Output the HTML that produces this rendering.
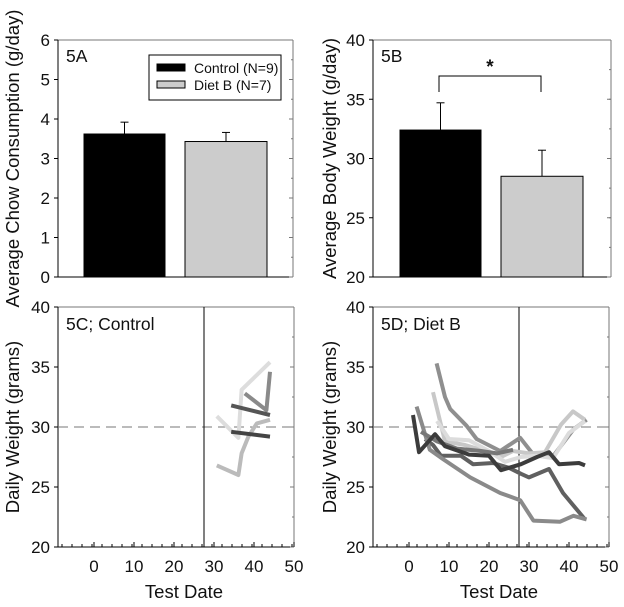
<!DOCTYPE html>
<html><head><meta charset="utf-8"><style>
html,body{margin:0;padding:0;background:#fff;}
svg{display:block;font-family:"Liberation Sans",Arial,sans-serif;}
</style></head><body>
<svg id="fig" width="624" height="607" viewBox="0 0 624 607"></svg>
<script>
// Panel A data
const groups = ["Control (N=9)", "Diet B (N=7)"];
const chowMeans = [3.62, 3.43];
const chowErr = [0.30, 0.23];
// Panel B data
const bodyMeans = [32.4, 28.5];
const bodyErr = [2.3, 2.2];
const yTicksA = [0,1,2,3,4,5,6];
const yTicksB = [20,25,30,35,40];
const yTicksCD = [20,25,30,35,40];
const xTicksCD = [0,10,20,30,40,50];
const barColors = ["#000000", "#cccccc"];
// Panel C series (date, weight)
const controlSeries = [
  [[30.7,30.9],[36.1,29.1],[36.9,33.1],[44,35.4]],
  [[30.7,26.8],[36.1,26.0],[36.9,27.8],[38.6,29.2],[40.7,30.3],[44,30.6]],
  [[37.7,32.8],[43.1,31.4],[44,34.6]],
  [[34.3,31.8],[44,31.0]],
  [[34.3,29.6],[44,29.2]]
];
const controlColors = ["#dddddd","#bbbbbb","#8a8a8a","#555555","#444444"];
// Panel D series
const dietSeries = [
  [[4,29.0],[6,28.5],[8,27.6],[13,27.6],[16,26.9],[21,27.0],[25,26.6],[28,26.1],[30,25.8],[35,26.5],[38.5,24.5],[44,22.3]],
  [[1.9,31.7],[5.2,28.1],[8.6,27.3],[15.3,25.8],[22.8,24.5],[27.8,23.9],[31.1,22.2],[37.7,22.1],[41.1,22.6],[44.4,22.3]],
  [[6.9,35.3],[9,32.5],[10.3,31.5],[14.4,30.1],[16.9,29.0],[22.8,28.0],[27.8,29.1],[31.1,27.7],[36.1,27.6],[41.1,29.8],[44.4,30.6]],
  [[6,32.9],[9,28.8],[14,28.5],[20,27.9],[23,27.5],[26,28],[30,27.8],[34,27.9],[38,30.2],[41,31.3],[44,30.6]],
  [[7,30.5],[10,29],[15,28.9],[20,28],[24,27.1],[28,27.5],[32,27.6],[36,27.4],[40,29.5],[44,30.5]],
  [[3,29.6],[7,28.8],[12,28.2],[18,28],[22,27.8],[26,28.1]],
  [[1,31],[2.5,27.9],[6.5,29.4],[9,28.4],[15,27.7],[20,27.6],[23,26.4],[28,26.9],[32,27.5],[35,27.9],[37.5,26.9],[42.5,27],[44,26.8]]
];
const dietColors = ["#606060","#8a8a8a","#8f8f8f","#c8c8c8","#dcdcdc","#777777","#3c3c3c"];
const vlineDate = 27.5;

const NS="http://www.w3.org/2000/svg";
const svg=document.getElementById('fig');
function mk(tag,attrs,parent){const e=document.createElementNS(NS,tag);for(const k in attrs)e.setAttribute(k,attrs[k]);(parent||svg).appendChild(e);return e;}
function lin(d0,d1,r0,r1){return v=>r0+(v-d0)*(r1-r0)/(d1-d0);}

function frame(g,L,R,T,B){
  mk('line',{x1:L,y1:T,x2:R,y2:T,stroke:'#777','stroke-width':1},g);
  mk('line',{x1:R,y1:T,x2:R,y2:B,stroke:'#777','stroke-width':1},g);
  mk('line',{x1:L,y1:T,x2:L,y2:B,stroke:'#000','stroke-width':1},g);
  mk('line',{x1:L,y1:B,x2:R,y2:B,stroke:'#000','stroke-width':1},g);
}
function yAxis(g,ticks,y,L,R,minorStep,lo,hi){
  ticks.forEach(t=>{
    const tk=mk('line',{x1:L-4,y1:y(t),x2:L,y2:y(t),stroke:'#000'},g);
    
    
    mk('line',{x1:R-4,y1:y(t),x2:R,y2:y(t),stroke:'#777'},g);
    const tx=mk('text',{x:L-8,y:y(t)+6,'text-anchor':'end','font-size':17,fill:'#111'},g);
    tx.textContent=t;
    
    
  });
  for(let v=lo;v<=hi;v+=minorStep){mk('line',{x1:R-2,y1:y(v),x2:R,y2:y(v),stroke:'#777'},g);}
}
function yTitle(g,x,cy,txt){
  const t=mk('text',{x:x,y:cy,'text-anchor':'middle','font-size':18.5,fill:'#111',transform:`rotate(-90 ${x} ${cy})`},g);
  t.textContent=txt;
  
  
}

function barPanel(name,L,R,T,B,lo,hi,ticks,minor,means,errs,bx,label,title,titleX){
  const g=mk('g',{});
  
  
  const y=lin(lo,hi,B,T);
  frame(g,L,R,T,B);
  yAxis(g,ticks,y,L,R,minor,lo,hi);
  means.forEach((m,i)=>{
    const x0=bx[i][0],x1=bx[i][1],cx=(x0+x1)/2;
    const eb=mk('line',{x1:cx,y1:y(m),x2:cx,y2:y(m+errs[i]),stroke:'#000'},g);
    
    
    mk('line',{x1:cx-4,y1:y(m+errs[i]),x2:cx+4,y2:y(m+errs[i]),stroke:'#000'},g);
    const r=mk('rect',{x:x0,y:y(m),width:x1-x0,height:B-y(m),fill:barColors[i],stroke:'#000','stroke-width':1},g);
    
    
  });
  const lb=mk('text',{x:L+8,y:T+22,'font-size':17.5,fill:'#111'},g);lb.textContent=label;
  
  
  yTitle(g,titleX,(T+B)/2,title);
  return {g,y};
}

const A=barPanel('panel-5a',58,293,40,277,0,6,yTicksA,0.5,chowMeans,chowErr,[[84,165],[185,267]],'5A','Average Chow Consumption (g/day)',19);
// legend
const lg=mk('g',{});


mk('rect',{x:149,y:55,width:132,height:45,fill:'#fff',stroke:'#000'},lg);
groups.forEach((gname,i)=>{
  const yy=68+i*17;
  const sw=mk('rect',{x:157,y:yy-4,width:28,height:7,fill:barColors[i],stroke:'#000'},lg);
  
  
  const t=mk('text',{x:194,y:yy+5,'font-size':14,fill:'#111'},lg);t.textContent=gname;
  
  
});

const Bp=barPanel('panel-5b',373,611,40,277,20,40,yTicksB,2.5,bodyMeans,bodyErr,[[400,481],[501,583]],'5B','Average Body Weight (g/day)',336);
// significance bracket
const br=mk('path',{d:'M439 92 L439 76 L541 76 L541 92',fill:'none',stroke:'#000'});


const st=mk('text',{x:490,y:73,'text-anchor':'middle','font-size':19,'font-weight':'bold',fill:'#111'});st.textContent='*';



function linePanel(name,L,R,T,B,label,series,colors,titleX){
  const g=mk('g',{});
  
  
  const x=lin(0,50,L+36,R);
  const y=lin(20,40,B,T);
  frame(g,L,R,T,B);
  yAxis(g,yTicksCD,y,L,R,2.5,20,40);
  for(let v=-8;v<=50;v+=2.5){mk('line',{x1:x(v),y1:B,x2:x(v),y2:B-3,stroke:'#000'},g);}
  xTicksCD.forEach(t=>{
    mk('line',{x1:x(t),y1:B,x2:x(t),y2:B-5,stroke:'#000'},g);
    const tx=mk('text',{x:x(t),y:B+25,'text-anchor':'middle','font-size':17,fill:'#111'},g);tx.textContent=t;
    
    
  });
  const dl=mk('line',{x1:L,y1:y(30),x2:R,y2:y(30),stroke:'#777','stroke-dasharray':'10,6'},g);
  
  
  const vl=mk('line',{x1:x(vlineDate),y1:T,x2:x(vlineDate),y2:B,stroke:'#000'},g);
  
  
  series.forEach((s,i)=>{
    const p=mk('polyline',{points:s.map(d=>x(d[0])+','+y(d[1])).join(' '),fill:'none',stroke:colors[i],'stroke-width':4,'stroke-linejoin':'round'},g);
    
    
  });
  const lb=mk('text',{x:L+8,y:T+23,'font-size':17.5,fill:'#111'},g);lb.textContent=label;
  
  
  yTitle(g,titleX,(T+B)/2,'Daily Weight (grams)');
  const xt=mk('text',{x:(L+36+R)/2-10,y:598,'text-anchor':'middle','font-size':18.5,fill:'#111'},g);xt.textContent='Test Date';
  
  
}
linePanel('panel-5c',58,294,307,547,'5C; Control',controlSeries,controlColors,19);
linePanel('panel-5d',373,609,307,547,'5D; Diet B',dietSeries,dietColors,336);
</script>
</body></html>
